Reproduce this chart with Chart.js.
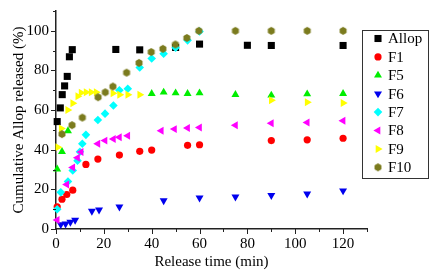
<!DOCTYPE html>
<html>
<head>
<meta charset="utf-8">
<script src="https://cdn.jsdelivr.net/npm/chart.js@4.4.0/dist/chart.umd.min.js"></script>
<style>
  html, body { margin: 0; padding: 0; background: #fff; }
  #wrap { width: 433px; height: 275px; position: relative; }
</style>
</head>
<body>
<div id="wrap"><canvas id="releaseChart"></canvas></div>
<script>
'use strict';

// release times (min) and cumulative release (%)
const allopT = [0.5, 1.8, 2.6, 3.6, 4.7, 5.6, 6.8, 25, 35, 50, 60, 80, 90, 120];
const allopV = [54.2, 61.1, 67.8, 72.2, 77, 86.9, 90.5, 90.6, 90.4, 91.6, 93.3, 92.7, 92.6, 92.6];

const f1T = [0.5, 2.5, 4.5, 7, 12.5, 17.5, 26.5, 35, 40, 55, 60, 90, 105, 120];
const f1V = [11.2, 15, 17.4, 19.6, 32.6, 35.3, 37.3, 39.2, 39.8, 42.2, 42.5, 44.6, 45, 45.8];

const f5T = [0.5, 2.5, 5, 40, 45, 50, 55, 60, 75, 90, 105, 120];
const f5V = [30.2, 39, 49.5, 68.3, 69, 68.6, 68.3, 68.6, 67.8, 67.5, 68.1, 68.3];

const f6T = [2, 4, 6, 8, 15, 18, 26.5, 45, 60, 75, 90, 105, 120];
const f6V = [2.3, 2.6, 3.5, 4.5, 9, 9.7, 11.2, 14.3, 15.7, 16.2, 17, 17.7, 19.3];

const f7T = [0.5, 2, 5, 7, 9, 10, 11, 12.5, 17.5, 20.5, 24, 26.5, 30, 35, 40, 45, 50, 55, 60];
const f7V = [10, 18.5, 24, 29.5, 34.5, 39, 43, 47.5, 55, 58.2, 62.3, 70, 70.8, 81.5, 86, 88.4, 91.5, 95.2, 99.7];

const f8T = [0.5, 4.5, 7, 9, 10.5, 17.5, 20.5, 24, 26.5, 30, 44, 49.5, 55, 60, 75, 90, 105, 120];
const f8V = [4.5, 22.5, 31, 36, 38.8, 43, 44.6, 45.4, 46.3, 47, 49.6, 50.4, 51, 51.2, 52.4, 53.4, 53.7, 54.6];

const f9T = [0.75, 2.2, 4.9, 7, 9.1, 10.5, 12.6, 14.7, 16.8, 23.8, 26.6, 30, 35, 90, 105, 120];
const f9V = [41.3, 50.7, 60.1, 63.4, 67, 68.7, 69, 69, 69, 68.5, 67.7, 67.7, 67.7, 65, 64, 63.6];

const f10T = [2.5, 6.7, 11, 17.6, 20.6, 23.8, 29.5, 34.7, 39.8, 44.7, 49.9, 54.7, 59.7, 75, 90, 105, 120];
const f10V = [47.9, 52.4, 56.2, 66.5, 69, 71.9, 78.9, 83.8, 89.3, 90.9, 93.1, 96.4, 100, 100, 100, 100, 100];

const seriesNames = ['Allop', 'F1', 'F5', 'F6', 'F7', 'F8', 'F9', 'F10'];
const xTicks = [0, 20, 40, 60, 80, 100, 120];
const yTicks = [0, 20, 40, 60, 80, 100];

const SERIF = '"Liberation Serif", "DejaVu Serif", serif';

// olive hexagon marker (no built-in hexagon style)
function makeHexagon(color, r) {
  const c = document.createElement('canvas');
  const s = Math.ceil(r * 2 + 2);
  c.width = s; c.height = s;
  const g = c.getContext('2d');
  g.beginPath();
  for (let i = 0; i < 6; i++) {
    const a = Math.PI / 6 + i * Math.PI / 3;
    const px = s / 2 + r * Math.cos(a);
    const py = s / 2 + r * Math.sin(a);
    if (i === 0) g.moveTo(px, py); else g.lineTo(px, py);
  }
  g.closePath();
  g.fillStyle = color;
  g.fill();
  return c;
}

function pts(t, v) {
  return t.map((x, i) => ({ x, y: v[i] }));
}

const styles = [
  { color: '#000000', pointStyle: 'rect', radius: 5, rotation: 0 },
  { color: '#ff0000', pointStyle: 'circle', radius: 3.6, rotation: 0 },
  { color: '#00ee00', pointStyle: 'triangle', radius: 4.6, rotation: 0 },
  { color: '#0000ee', pointStyle: 'triangle', radius: 4.6, rotation: 180 },
  { color: '#00ffff', pointStyle: 'rectRot', radius: 4.3, rotation: 0 },
  { color: '#ff00ff', pointStyle: 'triangle', radius: 4.6, rotation: -90 },
  { color: '#ffff00', pointStyle: 'triangle', radius: 4.6, rotation: 90 },
  { color: '#7b7b1e', pointStyle: makeHexagon('#7b7b1e', 4), radius: 4, rotation: 0 },
];

const seriesData = [
  pts(allopT, allopV), pts(f1T, f1V), pts(f5T, f5V), pts(f6T, f6V),
  pts(f7T, f7V), pts(f8T, f8V), pts(f9T, f9V), pts(f10T, f10V),
];

const datasets = seriesNames.map((name, i) => ({
  label: name,
  data: seriesData[i],
  backgroundColor: styles[i].color,
  borderColor: styles[i].color,
  borderWidth: 0,
  pointStyle: styles[i].pointStyle,
  pointRadius: styles[i].radius,
  pointRotation: styles[i].rotation,
  order: seriesNames.length - i,
  clip: false,
}));

// major/minor ticks drawn outward from the axis lines
const tickMarks = {
  id: 'tickMarks',
  afterDraw(chart) {
    const ctx = chart.ctx;
    const xs = chart.scales.x, ys = chart.scales.y;
    const area = chart.chartArea;
    ctx.save();
    ctx.strokeStyle = '#222';
    ctx.lineWidth = 1;
    for (let v = 0; v <= 130; v += 10) {
      const px = Math.round(xs.getPixelForValue(v)) + 0.5;
      const len = v % 20 === 0 ? 5 : 3;
      ctx.beginPath();
      ctx.moveTo(px, area.bottom);
      ctx.lineTo(px, area.bottom + len);
      ctx.stroke();
    }
    for (let v = 0; v <= 110; v += 10) {
      const py = Math.round(ys.getPixelForValue(v)) + 0.5;
      const len = v % 20 === 0 ? 5 : 3;
      ctx.beginPath();
      ctx.moveTo(area.left, py);
      ctx.lineTo(area.left - len, py);
      ctx.stroke();
    }
    ctx.restore();
  },
};

// boxed legend at the right side
const boxLegend = {
  id: 'boxLegend',
  afterDraw(chart) {
    const ctx = chart.ctx;
    ctx.save();
    ctx.strokeStyle = '#333';
    ctx.lineWidth = 1;
    ctx.strokeRect(362.5, 30.5, 66, 148);
    ctx.font = '15px ' + SERIF;
    ctx.textBaseline = 'middle';
    ctx.textAlign = 'left';
    chart.data.datasets.forEach((ds, i) => {
      const y = 38.5 + i * 18.4;
      ctx.fillStyle = ds.backgroundColor;
      ctx.strokeStyle = ds.backgroundColor;
      Chart.helpers.drawPoint(ctx, {
        pointStyle: ds.pointStyle,
        radius: ds.pointRadius,
        rotation: ds.pointRotation,
        borderWidth: 0,
      }, 378, y);
      ctx.fillStyle = '#000';
      ctx.fillText(ds.label, 388, y + 1);
    });
    ctx.restore();
  },
};

new Chart(document.getElementById('releaseChart'), {
  type: 'scatter',
  data: { datasets },
  options: {
    responsive: true,
    maintainAspectRatio: false,
    animation: false,
    layout: { padding: { top: 6, right: 66, left: 0, bottom: 0 } },
    plugins: { legend: { display: false }, tooltip: { enabled: false } },
    scales: {
      x: {
        type: 'linear',
        min: 0,
        max: 130,
        afterFit: s => { s.height = 46; },
        border: { color: '#222', width: 1.5 },
        grid: { drawOnChartArea: false, tickLength: 5, tickColor: 'rgba(0,0,0,0)' },
        ticks: {
          stepSize: 10,
          autoSkip: false,
          maxRotation: 0,
          padding: 1,
          color: '#000',
          font: { family: SERIF, size: 15 },
          callback: v => (xTicks.includes(v) ? v : ''),
        },
        title: {
          display: true,
          text: 'Release time (min)',
          color: '#000',
          font: { family: SERIF, size: 15 },
          padding: { top: 0, bottom: 4 },
        },
      },
      y: {
        type: 'linear',
        min: 0,
        max: 110,
        afterFit: s => { s.width = 56; },
        border: { color: '#222', width: 1.5 },
        grid: { drawOnChartArea: false, tickLength: 5, tickColor: 'rgba(0,0,0,0)' },
        ticks: {
          stepSize: 10,
          autoSkip: false,
          padding: 2,
          color: '#000',
          font: { family: SERIF, size: 15 },
          callback: v => (yTicks.includes(v) ? v : ''),
        },
        title: {
          display: true,
          text: 'Cumulative Allop released (%)',
          color: '#000',
          font: { family: SERIF, size: 15 },
          padding: { top: 10, bottom: 0 },
        },
      },
    },
  },
  plugins: [tickMarks, boxLegend],
});
</script>
</body>
</html>
